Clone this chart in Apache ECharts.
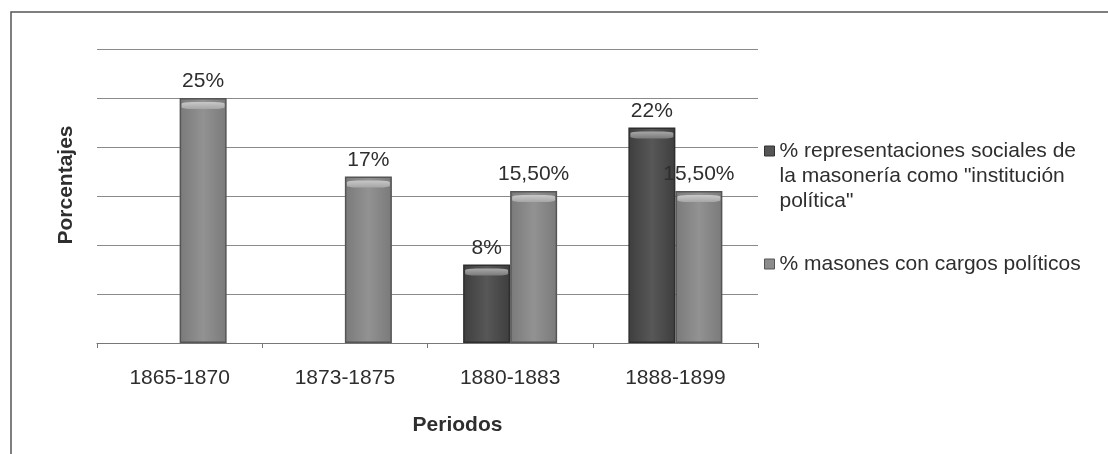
<!DOCTYPE html>
<html>
<head>
<meta charset="utf-8">
<script src="https://cdn.jsdelivr.net/npm/echarts@6/dist/echarts.min.js"></script>
<style>
html,body{margin:0;padding:0;background:#fff;}
#chart{width:1108px;height:454px;}
</style>
</head>
<body>
<div id="chart"></div>
<script>
const categories = ['1865-1870', '1873-1875', '1880-1883', '1888-1899'];
const seriesNames = ['% representaciones sociales de\nla masonería como "institución\npolítica"', '% masones con cargos políticos'];
const representaciones = [null, null, 8, 22];
const cargos = [25, 17, 15.5, 15.5];
const yTicks = [0, 5, 10, 15, 20, 25, 30];
const axisNames = { x: 'Periodos', y: 'Porcentajes' };

const FONT = '"Liberation Sans", Arial, sans-serif';
const TXT = '#2e2e2e';

function fmt(v) {
  if (v == null) return '';
  return Number.isInteger(v) ? v + '%' : v.toFixed(2).replace('.', ',') + '%';
}

const chart = echarts.init(document.getElementById('chart'), null, { renderer: 'canvas' });

function barSeries(name, data, color, border) {
  return {
    type: 'bar', name: name, data: data,
    barWidth: 47, barGap: '0%',
    itemStyle: {
      color: new echarts.graphic.LinearGradient(0, 0, 1, 0, [
        { offset: 0, color: color[0] }, { offset: 0.5, color: color[1] }, { offset: 1, color: color[0] }
      ]),
      borderColor: border, borderWidth: 1.5
    },
    label: {
      show: true, position: 'top', distance: 6,
      formatter: p => fmt(p.value),
      fontFamily: FONT, fontSize: 21, color: TXT
    },
    z: 2
  };
}

function rimSeries(name, data, dx, c) {
  return {
    type: 'pictorialBar', name: name, data: data,
    symbol: 'roundRect', symbolSize: [43, 7], symbolPosition: 'end',
    symbolOffset: [dx, 4],
    itemStyle: {
      color: new echarts.graphic.LinearGradient(0, 0, 0, 1, [
        { offset: 0, color: c[0] }, { offset: 1, color: c[1] }
      ])
    },
    label: { show: false }, silent: true, z: 3
  };
}

chart.setOption({
  animation: false,
  backgroundColor: '#fff',
  graphic: [{
    type: 'rect', z: -1, silent: true,
    shape: { x: 11, y: 12, width: 1200, height: 600 },
    style: { fill: 'none', stroke: '#555', lineWidth: 1.5 }
  }],
  grid: { left: 97, right: 350, top: 49, bottom: 111, containLabel: false },
  legend: {
    left: 759, top: 83.5, orient: 'vertical', itemGap: 38,
    itemWidth: 10, itemHeight: 10, icon: 'rect',
    formatter: name => (name === seriesNames[0] ? '\n\n' + name : name),
    textStyle: { fontFamily: FONT, fontSize: 21, color: TXT, lineHeight: 25 },
    data: [
      { name: seriesNames[0], itemStyle: { color: '#555', borderColor: '#333', borderWidth: 1 } },
      { name: seriesNames[1], itemStyle: { color: '#8c8c8c', borderColor: '#555', borderWidth: 1 } }
    ]
  },
  xAxis: {
    type: 'category', data: categories,
    name: axisNames.x, nameLocation: 'middle', nameGap: 72,
    nameTextStyle: { fontFamily: FONT, fontSize: 21, fontWeight: 'bold', color: TXT, padding: [0, 0, 0, 60] },
    axisLine: { lineStyle: { color: '#777', width: 1.2 } },
    axisTick: { show: true, length: 5, lineStyle: { color: '#777' } },
    axisLabel: { margin: 25, fontFamily: FONT, fontSize: 21, color: TXT }
  },
  yAxis: {
    type: 'value', min: yTicks[0], max: yTicks[yTicks.length - 1], interval: yTicks[1] - yTicks[0],
    name: axisNames.y, nameLocation: 'middle', nameGap: 20,
    nameTextStyle: { fontFamily: FONT, fontSize: 21, fontWeight: 'bold', color: TXT, padding: [0, 0, 0, 22] },
    axisLine: { show: false }, axisTick: { show: false },
    axisLabel: { show: false },
    splitLine: { lineStyle: { color: '#8a8a8a', width: 1.2 } }
  },
  series: [
    barSeries(seriesNames[0], representaciones, ['#3e3e3e', '#575757'], '#2e2e2e'),
    barSeries(seriesNames[1], cargos, ['#7a7a7a', '#929292'], '#555'),
    rimSeries('rim1', representaciones, -23.5, ['#a8a8a8', '#7a7a7a']),
    rimSeries('rim2', cargos, 23.5, ['#c8c8c8', '#a6a6a6'])
  ]
});
</script>
</body>
</html>
